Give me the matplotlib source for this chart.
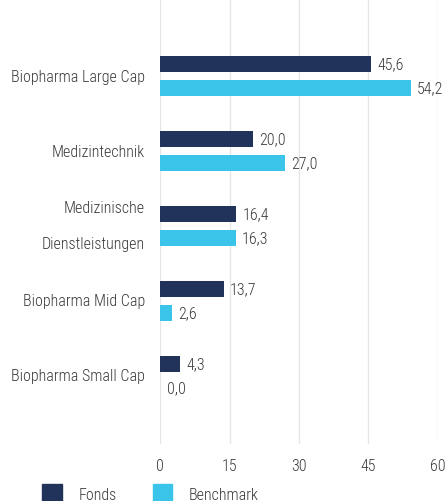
import matplotlib
matplotlib.use("Agg")
import matplotlib.pyplot as plt
from matplotlib.patches import Patch
from matplotlib import font_manager

categories = ["Biopharma Large Cap", "Medizintechnik", "Medizinische\nDienstleistungen",
              "Biopharma Mid Cap", "Biopharma Small Cap"]
fonds = [45.6, 20.0, 16.4, 13.7, 4.3]
benchmark = [54.2, 27.0, 16.3, 2.6, 0.0]
xticks = [0, 15, 30, 45, 60]
series_names = ["Fonds", "Benchmark"]

avail = {f.name for f in font_manager.fontManager.ttflist}
fam = [f for f in ["Roboto Condensed", "Liberation Sans Narrow", "Liberation Sans", "DejaVu Sans"] if f in avail]
plt.rcParams['font.family'] = fam
plt.rcParams['font.weight'] = 'light'

c_fonds = "#22335b"
c_bench = "#3bc4ea"
txt = "#3a3a3a"
fs = 11.5

fig = plt.figure(figsize=(4.45, 5.02), dpi=100)
ax = fig.add_axes([160.3/445, 1 - 445/502, (437.7 - 160.3)/445, 445/502])

y = list(range(len(categories)))
h = 0.213
off = 0.16
ax.barh([i - off for i in y], fonds, height=h, color=c_fonds, zorder=3)
ax.barh([i + off for i in y], benchmark, height=h, color=c_bench, zorder=3)

def fmt(v):
    return f"{v:.1f}".replace(".", ",")

for i, v in enumerate(fonds):
    ax.annotate(fmt(v), (v, i - off), xytext=(4.5, 0), textcoords="offset points",
                va="center", ha="left", fontsize=fs, color=txt)
for i, v in enumerate(benchmark):
    ax.annotate(fmt(v), (v, i + off), xytext=(4.5, 0), textcoords="offset points",
                va="center", ha="left", fontsize=fs, color=txt)

ax.set_xlim(0, 60)
ax.set_ylim(4.907, -1.027)
ax.set_xticks(xticks)
ax.set_xticklabels([str(t) for t in xticks], fontsize=fs, color=txt)
ax.set_yticks(y)
ax.set_yticklabels(categories, fontsize=fs, color=txt, linespacing=2.75, va="center")
ax.tick_params(axis="both", length=0)
ax.tick_params(axis="y", pad=11)
ax.tick_params(axis="x", pad=10)
for s in ax.spines.values():
    s.set_visible(False)
ax.grid(axis="x", color="#e6e6e6", linewidth=1, zorder=0)
ax.set_axisbelow(True)

handles = [Patch(color=c_fonds), Patch(color=c_bench)]
fig.legend(handles, series_names, loc="lower left", bbox_to_anchor=(28/445, -17/502),
           ncol=2, frameon=False, fontsize=fs, handlelength=1.25, handleheight=1.5,
           columnspacing=2.25, handletextpad=1.0, labelcolor=txt)

fig.savefig("out.png", dpi=100)
